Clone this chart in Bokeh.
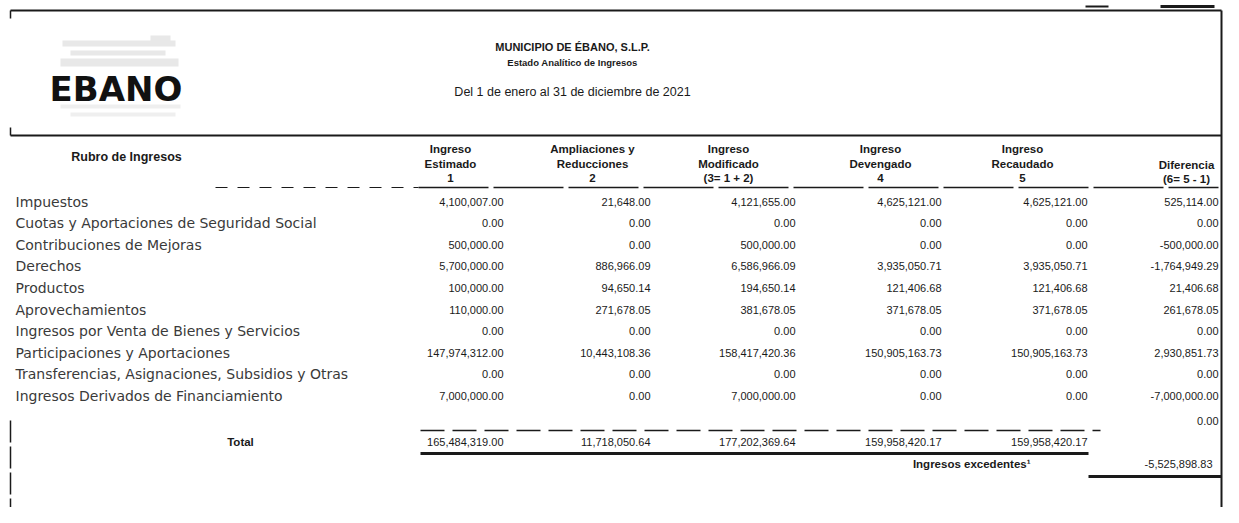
from bokeh.plotting import figure
from bokeh.models import Range1d, ColumnDataSource
from bokeh.embed import file_html
from bokeh.resources import INLINE
from bokeh.core.properties import value

# ---------------- data ----------------
rubros = [
    "Impuestos",
    "Cuotas y Aportaciones de Seguridad Social",
    "Contribuciones de Mejoras",
    "Derechos",
    "Productos",
    "Aprovechamientos",
    "Ingresos por Venta de Bienes y Servicios",
    "Participaciones y Aportaciones",
    "Transferencias, Asignaciones, Subsidios y Otras",
    "Ingresos Derivados de Financiamiento",
]
estimado = [4100007.00, 0.00, 500000.00, 5700000.00, 100000.00, 110000.00, 0.00,
            147974312.00, 0.00, 7000000.00]
ampliaciones = [21648.00, 0.00, 0.00, 886966.09, 94650.14, 271678.05, 0.00,
                10443108.36, 0.00, 0.00]
modificado = [4121655.00, 0.00, 500000.00, 6586966.09, 194650.14, 381678.05, 0.00,
              158417420.36, 0.00, 7000000.00]
devengado = [4625121.00, 0.00, 0.00, 3935050.71, 121406.68, 371678.05, 0.00,
             150905163.73, 0.00, 0.00]
recaudado = [4625121.00, 0.00, 0.00, 3935050.71, 121406.68, 371678.05, 0.00,
             150905163.73, 0.00, 0.00]
diferencia = [525114.00, 0.00, -500000.00, -1764949.29, 21406.68, 261678.05, 0.00,
              2930851.73, 0.00, -7000000.00]

totales = [165484319.00, 11718050.64, 177202369.64, 159958420.17, 159958420.17]
excedentes = -5525898.83

col_titles = [
    ["Ingreso", "Estimado", "1"],
    ["Ampliaciones y", "Reducciones", "2"],
    ["Ingreso", "Modificado", "(3= 1 + 2)"],
    ["Ingreso", "Devengado", "4"],
    ["Ingreso", "Recaudado", "5"],
    ["", "Diferencia", "(6= 5 - 1)"],
]

titulo = ["MUNICIPIO DE ÉBANO, S.L.P.", "Estado Analítico de Ingresos",
          "Del 1 de enero al 31 de diciembre de 2021"]

# ---------------- layout ----------------
W, H = 1223, 507
p = figure(width=W, height=H, output_backend="svg", toolbar_location=None,
           x_range=Range1d(0, W), y_range=Range1d(H, 0),
           min_border=0, outline_line_color=None)
p.axis.visible = False
p.grid.visible = False
p.background_fill_color = "white"
p.border_fill_color = "white"

F = value("Liberation Sans")
FD = value("DejaVu Sans")
ink = "#1a1a1a"
XR = 1221  # right frame

def fmt(v):
    return "{:,.2f}".format(v)

# frame lines
p.segment(x0=[10, 10, XR], y0=[10, 135, 10], x1=[XR, XR, XR], y1=[10, 135, 523],
          line_color=ink, line_width=2)
p.segment(x0=[10, 10], y0=[10, 127], x1=[10, 10], y1=[18, 135], line_color=ink, line_width=1.5)
p.segment(x0=[1160, 1085], y0=[6, 6], x1=[1214, 1108], y1=[6, 6], line_color=ink,
          line_width=[3, 2])
# left bottom broken rule
p.segment(x0=[10], y0=[420], x1=[10], y1=[523], line_color=ink, line_width=1.5,
          line_dash="22 4")

# logo
p.quad(left=[62, 70, 60, 150], right=[175, 165, 178, 170], top=[40, 50, 58, 35],
       bottom=[46, 55, 66, 42], color="#e8e8e8", line_color=None)
p.quad(left=[60, 70], right=[180, 175], top=[104, 112], bottom=[108, 116],
       color="#efefef", line_color=None)
p.text(x=[49], y=[88], text=["EBANO"], text_font=FD, text_font_style="bold",
       text_font_size="34px", text_baseline="middle", text_color="#111111")

# title
cx = 572
p.text(x=[cx], y=[46], text=[titulo[0]], text_font=F, text_font_style="bold",
       text_font_size="11px", text_align="center", text_baseline="middle", text_color=ink)
p.text(x=[cx], y=[62], text=[titulo[1]], text_font=F, text_font_style="bold",
       text_font_size="9.5px", text_align="center", text_baseline="middle", text_color=ink)
p.text(x=[cx], y=[91], text=[titulo[2]], text_font=F, text_font_size="12.5px",
       text_align="center", text_baseline="middle", text_color=ink)

# column headers
centers = [450, 592, 728, 880, 1022, 1186]
rights = [503, 650, 795, 941, 1087, 1218]
hx, hy, ht = [], [], []
for c, lines in zip(centers, col_titles):
    for k, t in enumerate(lines):
        if t:
            hx.append(c)
            hy.append([148, 163, 177][k] if lines[0] else [148, 164, 178][k])
            ht.append(t)
p.text(x=hx, y=hy, text=ht, text_font=F, text_font_style="bold", text_font_size="11.5px",
       text_align="center", text_baseline="middle", text_color=ink)
p.text(x=[126], y=[156], text=["Rubro de Ingresos"], text_font=F, text_font_style="bold",
       text_font_size="12.5px", text_align="center", text_baseline="middle", text_color=ink)

# header underline
p.segment(x0=[418], y0=[187], x1=[1218], y1=[187], line_color=ink, line_width=1.5,
          line_dash="70 5")
p.segment(x0=[215], y0=[187], x1=[418], y1=[187], line_color=ink, line_width=1.2,
          line_dash="12 10")

# data rows
n = len(rubros)
ys = [201 + i * 21.6 for i in range(n)]
src = ColumnDataSource(dict(y=ys, rubro=rubros))
p.text(x=15, y="y", text="rubro", source=src, text_font=FD, text_font_size="14px",
       text_baseline="middle", text_color="#3a3a3a")
for series, r in zip([estimado, ampliaciones, modificado, devengado, recaudado, diferencia],
                     rights):
    p.text(x=[r] * n, y=ys, text=[fmt(v) for v in series], text_font=F,
           text_font_size="11px", text_align="right", text_baseline="middle", text_color=ink)

# blank row in diferencia
p.text(x=[rights[5]], y=[420], text=[fmt(0)], text_font=F, text_font_size="11px",
       text_align="right", text_baseline="middle", text_color=ink)

# totals
p.segment(x0=[420], y0=[430], x1=[1100], y1=[430], line_color=ink, line_width=1.5,
          line_dash="24 8")
p.text(x=[240], y=[441], text=["Total"], text_font=F, text_font_style="bold",
       text_font_size="11.5px", text_align="center", text_baseline="middle", text_color=ink)
p.text(x=rights[:5], y=[441] * 5, text=[fmt(v) for v in totales], text_font=F,
       text_font_size="11px", text_align="right", text_baseline="middle", text_color=ink)
p.segment(x0=[420], y0=[453], x1=[1088], y1=[453], line_color=ink, line_width=3)
p.text(x=[1030], y=[463], text=["Ingresos excedentes¹"], text_font=F, text_font_style="bold",
       text_font_size="11.5px", text_align="right", text_baseline="middle", text_color=ink)
p.text(x=[1212], y=[463], text=[fmt(excedentes)], text_font=F, text_font_size="11px",
       text_align="right", text_baseline="middle", text_color=ink)
p.segment(x0=[1088], y0=[476], x1=[XR], y1=[476], line_color=ink, line_width=3)

open("out.html", "w").write(file_html(p, INLINE))
